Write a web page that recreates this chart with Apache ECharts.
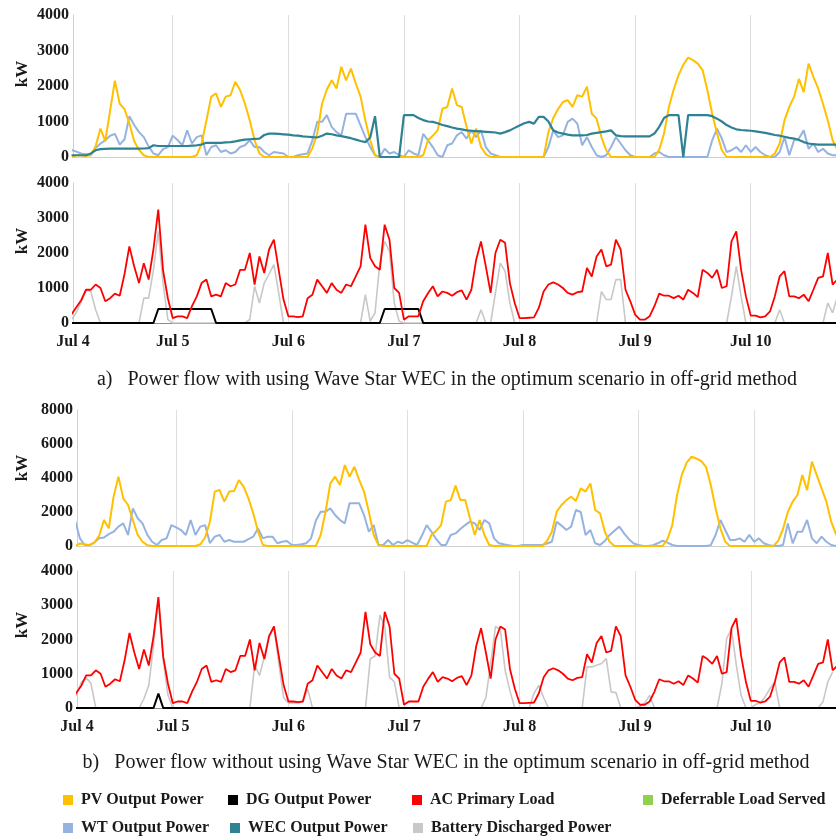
<!DOCTYPE html>
<html>
<head>
<meta charset="utf-8">
<script src="https://cdn.jsdelivr.net/npm/echarts@6/dist/echarts.min.js"></script>
<style>
html,body{margin:0;padding:0;background:#fff;}
#chart{width:836px;height:838px;}
</style>
</head>
<body>
<div id="chart"></div>
<script>
// ---- DATA (hourly, first value = Jul 4 03:00, hours counted from Jul 4 00:00) ----
const START_HOUR = 3;
const dayHours = [24, 48, 72, 96, 120, 144];
const dayLabels = ['Jul 4', 'Jul 5', 'Jul 6', 'Jul 7', 'Jul 8', 'Jul 9', 'Jul 10'];

// (a) with Wave Star WEC
const pvA = [
  0,50,50,30,50,300,800,450,1300,2150,1500,1350,950,450,200,50,0,0,0,0,0,
  0,0,0,0,0,50,380,1030,1700,1790,1410,1700,1740,2120,1880,1500,1030,470,100,0,0,0,0,0,
  0,0,0,0,0,250,660,1500,1900,2160,1930,2540,2160,2490,2070,1700,1030,470,50,0,0,0,0,0,
  0,0,0,0,50,470,600,750,1360,1410,1930,1460,1410,850,380,800,280,80,0,0,0,0,0,0,
  0,0,0,0,0,0,700,1100,1350,1550,1600,1410,1740,1700,1980,1220,1080,560,190,0,0,0,0,0,
  0,0,0,0,0,200,660,1400,1900,2300,2600,2800,2730,2630,2450,1880,1220,660,190,0,0,0,0,0,
  0,0,0,0,0,100,380,1030,1410,1700,2200,1830,2630,2260,1930,1500,1030,470,200
];
const wtA = [
  200,150,100,80,50,250,380,470,600,650,350,500,1150,900,700,560,300,100,50,220,280,
  600,480,330,750,380,560,610,50,280,330,140,190,100,140,280,330,470,280,280,140,50,140,120,100,
  0,0,50,80,100,470,990,990,1180,850,700,610,1220,1220,1220,890,560,280,50,0,230,100,140,50,
  0,190,100,50,650,470,280,50,0,330,380,610,700,520,750,560,750,280,100,50,0,0,0,0,
  0,0,0,0,0,0,280,750,560,610,990,1080,940,330,560,280,50,0,50,280,560,380,190,50,
  0,0,0,0,100,140,50,0,0,0,0,0,0,0,0,0,470,800,520,140,190,280,140,330,
  140,280,140,50,0,0,140,560,50,470,520,750,230,380,140,230,100,50,50
];
const wecA = [
  50,50,50,50,100,190,220,230,235,235,235,235,235,235,235,240,250,330,310,310,310,
  310,310,310,310,320,330,350,400,400,400,400,410,420,440,470,490,500,510,520,620,660,660,650,640,
  630,610,600,580,570,560,550,600,660,640,610,590,560,530,490,450,420,550,1150,0,0,0,0,0,
  1180,1180,1180,1100,1040,1000,990,950,900,870,830,800,780,750,740,730,720,710,700,690,660,700,750,820,
  890,950,990,940,1130,1130,1000,750,690,660,630,610,610,610,620,660,680,700,720,750,610,590,580,580,
  580,580,580,580,660,850,1100,1180,1180,1180,0,1180,1180,1180,1180,1180,1150,1080,1000,900,830,780,760,750,
  740,720,700,680,650,620,600,570,540,520,480,420,380,360,350,350,350,350,350
];
const loadAC = [
  250,450,650,950,950,1100,1000,620,710,840,780,1400,2190,1620,1140,1710,1240,2100,3240,1500,700,
  140,190,190,140,480,760,1140,1240,760,810,760,1140,1050,1100,1520,1520,2000,1100,1900,1430,2100,2380,1520,670,
  190,190,170,190,710,810,1240,1050,860,1140,950,860,1100,1050,1330,1620,2810,1860,1620,1520,2810,2380,1000,860,
  95,190,190,190,620,850,1050,760,900,860,780,880,930,670,950,1810,2330,1620,860,2000,2380,2290,1140,570,
  140,140,150,160,430,900,1100,1160,1100,1000,860,810,880,900,1570,1330,1900,2100,1620,1670,2380,2100,950,620,
  240,95,95,190,480,840,780,780,710,780,670,950,860,740,1520,1430,1290,1520,1000,1050,2330,2620,1520,760,
  210,210,160,190,330,760,1330,1480,760,760,710,810,620,950,1290,1330,2000,1100,1240
];
const batA = [
  100,300,600,950,900,380,0,0,0,0,0,0,0,0,0,710,710,1520,2620,1140,95,
  0,0,0,0,0,0,0,0,0,0,0,0,0,0,0,0,100,1050,570,1140,1400,1670,860,0,
  0,0,0,0,0,0,0,0,0,0,0,0,0,0,0,0,810,50,290,1710,2330,2050,570,50,
  0,0,0,0,0,0,0,0,0,0,0,0,0,0,0,0,380,0,0,860,1710,1480,570,0,
  0,0,0,0,0,0,0,0,0,0,0,0,0,0,0,0,0,900,670,670,1240,1240,0,0,
  0,0,0,0,0,0,0,0,0,0,0,0,0,0,0,0,0,0,0,0,760,1620,760,0,
  0,0,0,0,0,0,380,0,0,0,0,0,0,0,0,0,570,290,760
];
const dgA = [
  0,0,0,0,0,0,0,0,0,0,0,0,0,0,0,0,0,0,400,400,400,
  400,400,400,400,400,400,400,400,400,0,0,0,0,0,0,0,0,0,0,0,0,0,0,0,
  0,0,0,0,0,0,0,0,0,0,0,0,0,0,0,0,0,0,0,0,400,400,400,400,
  400,400,400,400,0,0,0,0,0,0,0,0,0,0,0,0,0,0,0,0,0,0,0,0,
  0,0,0,0,0,0,0,0,0,0,0,0,0,0,0,0,0,0,0,0,0,0,0,0,
  0,0,0,0,0,0,0,0,0,0,0,0,0,0,0,0,0,0,0,0,0,0,0,0,
  0,0,0,0,0,0,0,0,0,0,0,0,0,0,0,0,0,0,0
];

// (b) without Wave Star WEC
const pvB = [
  0,150,100,50,200,600,1530,1040,2900,4080,2800,2410,1530,650,250,50,0,0,0,0,0,
  0,0,0,0,0,100,500,1430,3200,3290,2610,3200,3230,3880,3490,2800,1920,840,60,0,0,0,0,0,
  0,0,0,0,0,0,650,2000,3680,4080,3590,4760,4080,4660,3880,3200,2020,650,60,0,0,0,0,0,
  0,0,0,0,0,650,900,1230,2610,2700,3550,2700,2700,1630,650,1530,650,60,0,0,0,0,0,0,
  0,0,0,0,0,300,840,2020,2400,2700,2900,2650,3390,3200,3680,2120,1920,840,250,0,0,0,0,0,
  0,0,0,0,0,0,400,1230,3000,4200,4900,5250,5150,5000,4660,3590,2210,1040,250,0,0,0,0,0,
  0,0,0,0,0,300,1000,2000,2610,3000,4170,3290,4960,4170,3390,2610,1430,700,300
];
const wtB = [
  1500,450,60,60,200,450,500,700,840,1140,1330,650,2210,1630,1330,650,250,60,350,450,1230,
  1100,940,650,1530,650,1140,1230,160,550,650,250,350,250,250,250,400,550,1040,450,550,550,160,250,290,
  60,60,100,160,450,1500,2020,2020,2210,1820,1530,1330,2510,2510,2510,1820,840,1230,60,60,350,60,250,160,
  350,200,60,600,1230,840,400,60,60,650,740,1000,1230,1430,1330,940,1530,1330,450,160,100,50,0,0,
  60,60,60,60,60,150,250,1430,1200,940,1140,2120,2000,650,940,160,60,300,650,900,1140,740,400,150,
  60,0,0,50,160,310,200,60,0,0,0,0,0,0,0,50,650,1530,940,350,350,450,250,650,
  250,450,160,60,0,0,60,1330,160,840,840,1530,450,160,550,250,60,0,0
];
const batB = [
  150,400,750,880,720,0,0,0,0,0,0,0,0,0,0,270,660,1830,3200,1400,370,
  0,0,0,0,0,0,0,0,0,0,0,0,0,0,0,0,0,1250,950,1500,2130,2370,1300,300,
  150,150,150,190,550,0,0,0,0,0,0,0,0,0,0,0,0,1440,1520,2710,2380,900,760,
  0,0,0,0,0,0,0,0,0,0,0,0,0,0,0,0,0,0,300,1300,2380,2290,1100,500,
  0,0,0,0,430,660,300,0,0,0,0,0,0,0,0,1200,1200,1250,1300,1440,470,450,0,0,
  0,0,50,150,370,0,0,0,0,0,0,0,0,0,0,0,0,0,0,700,2030,2300,1250,370,
  0,0,100,150,330,570,760,0,0,0,0,0,0,0,0,0,180,760,1050
];
const dgB = [
  0,0,0,0,0,0,0,0,0,0,0,0,0,0,0,0,0,0,420,0,0,
  0,0,0,0,0,0,0,0,0,0,0,0,0,0,0,0,0,0,0,0,0,0,0,0,
  0,0,0,0,0,0,0,0,0,0,0,0,0,0,0,0,0,0,0,0,0,0,0,0,
  0,0,0,0,0,0,0,0,0,0,0,0,0,0,0,0,0,0,0,0,0,0,0,0,
  0,0,0,0,0,0,0,0,0,0,0,0,0,0,0,0,0,0,0,0,0,0,0,0,
  0,0,0,0,0,0,0,0,0,0,0,0,0,0,0,0,0,0,0,0,0,0,0,0,
  0,0,0,0,0,0,0,0,0,0,0,0,0,0,0,0,0,0,0
];
const deferrable = [];

// ---- CHART ----
const SERIF = "'Liberation Serif', 'Times New Roman', serif";
const COLORS = {
  pv: '#FFC000', wt: '#95B3E0', wec: '#2E8294', dg: '#000000',
  ac: '#FF0000', bat: '#C8C8C8', def: '#92D050'
};
const NAMES = {
  pv: 'PV Output Power', wt: 'WT Output Power', wec: 'WEC Output Power',
  dg: 'DG Output Power', ac: 'AC Primary Load', bat: 'Battery Discharged Power',
  def: 'Deferrable Load Served'
};
const pairs = arr => arr.map((v, i) => [START_HOUR + i, v]);

const grids = [
  { left: 73, top: 15, width: 763, height: 142, min: 3.3, max: 161.7, ymax: 4000, ytick: 1000, labels: false },
  { left: 73, top: 183, width: 763, height: 140, min: 3.3, max: 161.7, ymax: 4000, ytick: 1000, labels: true },
  { left: 77, top: 410, width: 759, height: 136, min: 3.4, max: 161.0, ymax: 8000, ytick: 2000, labels: false },
  { left: 77, top: 571, width: 759, height: 137, min: 4.1, max: 161.7, ymax: 4000, ytick: 1000, labels: true }
];

function mk(key, arr, gi, width, z, withGrid) {
  const s = {
    name: NAMES[key], type: 'line', xAxisIndex: gi, yAxisIndex: gi,
    data: pairs(arr), showSymbol: false, symbol: 'none', clip: true,
    lineStyle: { color: COLORS[key], width: width },
    itemStyle: { color: COLORS[key] }, z: z, animation: false
  };
  if (withGrid) {
    s.markLine = {
      silent: true, symbol: ['none', 'none'], label: { show: false },
      lineStyle: { color: '#dedede', width: 1, type: 'solid' },
      emphasis: { disabled: true },
      data: dayHours.map(h => ({ xAxis: h })),
      z: 1
    };
  }
  return s;
}

const series = [
  mk('wt', wtA, 0, 2, 3, true),
  mk('pv', pvA, 0, 2, 4, false),
  mk('wec', wecA, 0, 2.2, 5, false),
  mk('bat', batA, 1, 1.6, 3, true),
  mk('dg', dgA, 1, 2, 4, false),
  mk('ac', loadAC, 1, 1.8, 5, false),
  mk('wt', wtB, 2, 2, 3, true),
  mk('pv', pvB, 2, 2, 4, false),
  mk('bat', batB, 3, 1.6, 3, true),
  mk('dg', dgB, 3, 2, 4, false),
  mk('ac', loadAC, 3, 1.8, 5, false),
  mk('def', deferrable, 0, 2, 2, false)
];

function dayLabel(v) {
  if (v < dayHours[0]) return dayLabels[0];
  const idx = dayHours.indexOf(Math.round(v));
  return idx >= 0 ? dayLabels[idx + 1] : '';
}

const xAxis = grids.map((g, i) => ({
  type: 'value', gridIndex: i, min: g.min, max: g.max,
  axisLine: { show: true, lineStyle: { color: g.labels ? '#8c8c8c' : '#d0d0d0', width: 1 } },
  axisTick: { show: false },
  splitLine: { show: false },
  axisLabel: g.labels ? {
    show: true, customValues: [g.min].concat(dayHours),
    formatter: dayLabel,
    fontFamily: SERIF, fontWeight: 'bold', fontSize: 16, color: '#1a1a1a', margin: 11,
    hideOverlap: false
  } : { show: false }
}));

const yAxis = grids.map((g, i) => ({
  type: 'value', gridIndex: i, min: 0, max: g.ymax, interval: g.ytick,
  axisLine: { show: true, lineStyle: { color: '#d0d0d0', width: 1 } },
  axisTick: { show: false },
  splitLine: { show: false },
  axisLabel: { fontFamily: SERIF, fontWeight: 'bold', fontSize: 16, color: '#1a1a1a', margin: 4,
    formatter: v => String(v) }
}));

const legendItems = [
  { key: 'pv', left: 63, top: 800 },
  { key: 'dg', left: 228, top: 800 },
  { key: 'ac', left: 412, top: 800 },
  { key: 'def', left: 643, top: 800 },
  { key: 'wt', left: 63, top: 828 },
  { key: 'wec', left: 230, top: 828 },
  { key: 'bat', left: 413, top: 828 }
];
const legend = legendItems.map(it => ({
  data: [NAMES[it.key]], left: it.left, top: it.top - 8, padding: 0,
  icon: 'rect', itemWidth: 10, itemHeight: 10, itemGap: 0,
  textStyle: { fontFamily: SERIF, fontWeight: 'bold', fontSize: 16, color: '#1a1a1a', padding: [0, 0, 0, 3] },
  selectedMode: false
}));

const kwCenters = [74, 241, 468, 625];
const graphic = kwCenters.map(y => ({
  type: 'text', x: 23, y: y, rotation: Math.PI / 2,
  style: { text: 'kW', font: "bold 17px 'Liberation Serif', serif", fill: '#1a1a1a', textAlign: 'center', textVerticalAlign: 'middle' }
})).concat([
  { type: 'text', x: 447, y: 380,
    style: { text: 'a)   Power flow with using Wave Star WEC in the optimum scenario in off-grid method',
      font: "20px 'Liberation Serif', serif", fill: '#1a1a1a', textAlign: 'center', textVerticalAlign: 'middle' } },
  { type: 'text', x: 446, y: 763,
    style: { text: 'b)   Power flow without using Wave Star WEC in the optimum scenario in off-grid method',
      font: "20px 'Liberation Serif', serif", fill: '#1a1a1a', textAlign: 'center', textVerticalAlign: 'middle' } }
]);

const chart = echarts.init(document.getElementById('chart'), null, { renderer: 'canvas' });
chart.setOption({
  backgroundColor: '#ffffff',
  animation: false,
  grid: grids.map(g => ({ left: g.left, top: g.top, width: g.width, height: g.height, containLabel: false })),
  xAxis: xAxis,
  yAxis: yAxis,
  legend: legend,
  graphic: graphic,
  series: series
});
</script>
</body>
</html>
